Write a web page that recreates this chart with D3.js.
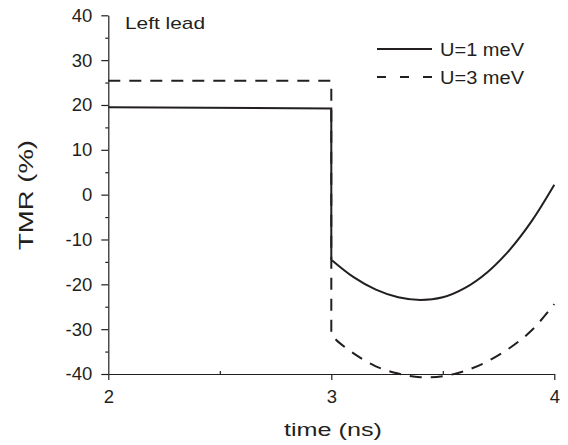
<!DOCTYPE html>
<html><head><meta charset="utf-8">
<script src="https://cdn.jsdelivr.net/npm/d3@7"></script>
<style>body{margin:0;background:#fff}svg{display:block}text{font-family:"Liberation Sans",Arial,sans-serif;fill:#231f20}</style>
</head><body>
<script>
// data
const xTicks = [2, 3, 4];
const xMinor = [2.5, 3.5];
const yTicks = [-40, -30, -20, -10, 0, 10, 20, 30, 40];
const yMinor = [-35, -25, -15, -5, 5, 15, 25, 35];
// U=1 meV: flat part then drop, then curve
const u1FlatX = [2, 3, 3];
const u1FlatY = [19.5, 19.2, -14.5];
const u1CurveX = [3.0, 3.1, 3.2, 3.3, 3.4, 3.5, 3.6, 3.7, 3.8, 3.9, 4.0];
const u1CurveY = [-14.5, -18.4, -21.2, -22.9, -23.5, -22.9, -20.8, -17.3, -12.3, -5.8, 2.2];
// U=3 meV
const u3FlatX = [2, 3, 3];
const u3FlatY = [25.4, 25.4, -31.0];
const u3CurveX = [3.0, 3.02, 3.1, 3.2, 3.3, 3.4, 3.5, 3.6, 3.7, 3.8, 3.9, 4.0];
const u3CurveY = [-31.0, -32.3, -35.4, -38.3, -39.9, -40.7, -40.5, -39.3, -37.2, -34.2, -30.2, -24.4];
const seriesNames = ["U=1 meV", "U=3 meV"];

const W = 568, H = 445;
const svg = d3.select("body").append("svg").attr("width", W).attr("height", H);
const x = d3.scaleLinear().domain([2, 4]).range([108.3, 554.3]);
const y = d3.scaleLinear().domain([-40, 40]).range([374, 15.3]);
const col = "#231f20";
const fmt = d => String(d);

// axes
const gx = svg.append("g").attr("transform", `translate(0,${y(-40)})`)
  .call(d3.axisBottom(x).tickValues(xTicks).tickFormat(fmt).tickSizeInner(6).tickSizeOuter(0).tickPadding(10));
const gxm = svg.append("g").attr("transform", `translate(0,${y(-40)})`)
  .call(d3.axisBottom(x).tickValues(xMinor).tickFormat("").tickSizeInner(-3).tickSizeOuter(0));
gxm.select(".domain").remove();
const gy = svg.append("g").attr("transform", `translate(${x(2)},0)`)
  .call(d3.axisLeft(y).tickValues(yTicks).tickFormat(fmt).tickSizeInner(7).tickSizeOuter(0).tickPadding(9));
const gym = svg.append("g").attr("transform", `translate(${x(2)},0)`)
  .call(d3.axisLeft(y).tickValues(yMinor).tickFormat("").tickSizeInner(3).tickSizeOuter(0));
gym.select(".domain").remove();
svg.selectAll(".domain, .tick line").attr("stroke", col).attr("stroke-width", 1.2);
svg.selectAll(".tick text").attr("font-size", 18.5).attr("fill", col).attr("font-family", "'Liberation Sans', Arial, sans-serif");

// lines
const toPts = (xs, ys) => xs.map((v, i) => [v, ys[i]]);
const lin = d3.line().x(d => x(d[0])).y(d => y(d[1]));
const crv = d3.line().x(d => x(d[0])).y(d => y(d[1])).curve(d3.curveCatmullRom);
function seriesPath(flat, curve) {
  // join flat (linear) and curve (smooth) parts into one path
  return lin(flat) + crv(curve).replace(/^M[^A-Za-z]*/, "L" + x(curve[0][0]) + "," + y(curve[0][1]));
}
svg.append("path").attr("d", seriesPath(toPts(u3FlatX, u3FlatY), toPts(u3CurveX, u3CurveY)))
  .attr("fill", "none").attr("stroke", col).attr("stroke-width", 2).attr("stroke-dasharray", "12,9");
svg.append("path").attr("d", seriesPath(toPts(u1FlatX, u1FlatY), toPts(u1CurveX, u1CurveY)))
  .attr("fill", "none").attr("stroke", col).attr("stroke-width", 2);

// labels
svg.append("text").attr("x", 125).attr("y", 29).attr("font-size", 17)
  .attr("textLength", 80).attr("lengthAdjust", "spacingAndGlyphs").text("Left lead");
svg.append("text").attr("x", 284).attr("y", 436).attr("font-size", 18)
  .attr("textLength", 98).attr("lengthAdjust", "spacingAndGlyphs").text("time (ns)");
svg.append("text").attr("transform", `translate(33,250) rotate(-90)`).attr("font-size", 21)
  .attr("textLength", 110).attr("lengthAdjust", "spacingAndGlyphs").text("TMR (%)");

// legend
const leg = [{y: 49, dash: null}, {y: 77, dash: "9,14"}];
leg.forEach((l, i) => {
  svg.append("line").attr("x1", 377).attr("x2", 432).attr("y1", l.y).attr("y2", l.y)
    .attr("stroke", col).attr("stroke-width", 2).attr("stroke-dasharray", l.dash);
  svg.append("text").attr("x", 440).attr("y", l.y + 7).attr("font-size", 18)
    .attr("textLength", 84).attr("lengthAdjust", "spacingAndGlyphs").text(seriesNames[i]);
});
</script>
</body></html>
